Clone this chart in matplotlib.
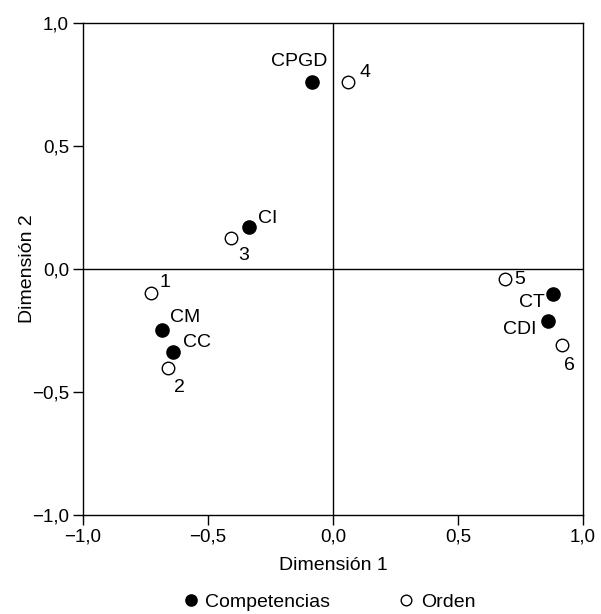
import matplotlib
matplotlib.use('Agg')
import matplotlib.pyplot as plt
from matplotlib.ticker import FuncFormatter

plt.rcParams['font.family'] = ['Liberation Sans', 'DejaVu Sans']
plt.rcParams['font.size'] = 14

# Competencias (filled)
comp_labels = ['CPGD', 'CI', 'CM', 'CC', 'CT', 'CDI']
comp_x = [-0.084, -0.336, -0.685, -0.641, 0.881, 0.861]
comp_y = [0.76, 0.17, -0.248, -0.339, -0.103, -0.210]

# Orden (open)
ord_labels = ['1', '2', '3', '4', '5', '6']
ord_x = [-0.727, -0.659, -0.408, 0.06, 0.688, 0.915]
ord_y = [-0.099, -0.404, 0.126, 0.76, -0.041, -0.309]

ticks = [-1.0, -0.5, 0.0, 0.5, 1.0]

# label offsets in pixels (dx, dy to baseline, ha)
offsets = {
    'CPGD': (15, 16, 'right'), 'CI': (9, 4, 'left'), 'CM': (8, 8, 'left'),
    'CC': (10, 5, 'left'), 'CT': (-8, -13, 'right'), 'CDI': (-12, -13, 'right'),
    '1': (8, 6, 'left'), '2': (6, -24, 'left'), '3': (7, -22, 'left'),
    '4': (11, 5, 'left'), '5': (9, -5, 'left'), '6': (2, -25, 'left'),
}

fig = plt.figure(figsize=(6.01, 6.14), dpi=100)
ax = fig.add_axes([83 / 601, 1 - 515 / 614, 500 / 601, 492 / 614])

ax.axhline(0, color='black', lw=1.0, zorder=1)
ax.axvline(0, color='black', lw=1.0, zorder=1)

ax.plot(comp_x, comp_y, 'o', color='black', ms=9.5, ls='none',
        label='Competencias', zorder=3)
ax.plot(ord_x, ord_y, 'o', mfc='white', mec='black', mew=1.0, ms=9,
        ls='none', label='Orden', zorder=3)

for lab, x, y in zip(comp_labels + ord_labels, comp_x + ord_x, comp_y + ord_y):
    dx, dy, ha = offsets[lab]
    ax.annotate(lab, (x, y), xytext=(dx, dy), textcoords='offset pixels',
                ha=ha, va='baseline', fontsize=14)

ax.set_xlim(-1, 1)
ax.set_ylim(-1, 1)
ax.set_xticks(ticks)
ax.set_yticks(ticks)
fmt = FuncFormatter(lambda v, p: ('%.1f' % v).replace('.', ',').replace('-', '\u2212'))
ax.xaxis.set_major_formatter(fmt)
ax.yaxis.set_major_formatter(fmt)
ax.tick_params(direction='out', length=7, width=1.0, labelsize=13.5, pad=3)
for s in ax.spines.values():
    s.set_linewidth(1.0)

ax.set_xlabel('Dimensión 1', fontsize=14, labelpad=8)
ax.set_ylabel('Dimensión 2', fontsize=14, labelpad=-3)

fig.legend(loc='center', bbox_to_anchor=(330 / 601, 1 - 602 / 614), ncol=2,
           frameon=False, markerscale=0.85, handlelength=0.6, handletextpad=0.45,
           columnspacing=3.6, fontsize=14)

fig.savefig('out.png', dpi=100)
